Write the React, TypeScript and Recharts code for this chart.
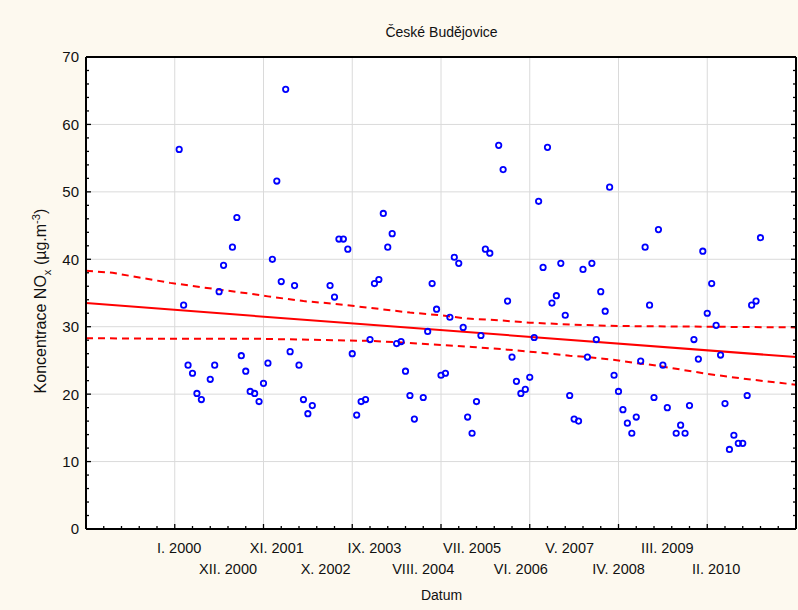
import { ComposedChart, Scatter, Line, XAxis, YAxis, CartesianGrid } from 'recharts'

// monthly NOx means, case 1 = January 2000
const cases = [
  1, 2, 3, 4, 5, 6, 8, 9, 10, 11, 13, 14, 15, 16, 17, 18, 19, 20, 21, 22, 23, 24, 25, 26, 27, 28, 29, 30, 31,
  35, 36, 37, 38, 39, 40, 41, 42, 43, 44, 45, 46, 47, 48, 49, 50, 51, 52, 53, 54, 56, 57, 58, 59, 60, 61, 62,
  63, 64, 65, 66, 67, 68, 69, 70, 71, 73, 74, 75, 76, 77, 78, 79, 80, 81, 82, 83, 84, 85, 86, 87, 88, 89, 90,
  91, 92, 93, 94, 95, 96, 97, 98, 99, 100, 101, 102, 103, 104, 105, 106, 107, 108, 109, 110, 111, 113, 114,
  115, 116, 117, 118, 119, 120, 121, 122, 123, 124, 125, 126, 127, 128, 129, 130, 131, 132,
]
const nox = [
  56.3, 33.2, 24.3, 23.1, 20.1, 19.2, 22.2, 24.3, 35.2, 39.1, 41.8, 46.2, 25.7, 23.4, 20.4, 20.1, 18.9, 21.6, 24.6, 40.0, 51.6, 36.7, 65.2, 26.3, 36.1, 24.3, 19.2, 17.1, 18.3,
  36.1, 34.4, 43.0, 43.0, 41.5, 26.0, 16.9, 18.9, 19.2, 28.1, 36.4, 37.0, 46.8, 41.8, 43.8, 27.5, 27.8, 23.4, 19.8, 16.3, 19.5, 29.3, 36.4, 32.6, 22.8, 23.1, 31.4,
  40.3, 39.4, 29.9, 16.6, 14.2, 18.9, 28.7, 41.5, 40.9, 56.9, 53.3, 33.8, 25.5, 21.9, 20.1, 20.7, 22.5, 28.4, 48.6, 38.8, 56.6, 33.5, 34.6, 39.4, 31.7, 19.8, 16.3,
  16.0, 38.5, 25.5, 39.4, 28.1, 35.2, 32.3, 50.7, 22.8, 20.4, 17.7, 15.7, 14.2, 16.6, 24.9, 41.8, 33.2, 19.5, 44.4, 24.3, 18.0, 14.2, 15.4,
  14.2, 18.3, 28.1, 25.2, 41.2, 32.0, 36.4, 30.2, 25.8, 18.6, 11.8, 13.9, 12.7, 12.7, 19.8, 33.2, 33.8, 43.2,
]

// fitted trend and its confidence limits
const trendCases = [-20, 140]
const trendValues = [33.5, 25.5]
const upperCases = [-20, -14, -8, -1, 10, 17, 21, 29, 36, 44, 53, 60, 66, 72, 80, 90, 100, 120, 140]
const upperValues = [38.3, 38.0, 37.3, 36.5, 35.5, 34.9, 34.5, 33.8, 33.4, 32.8, 32.1, 31.7, 31.2, 31.0, 30.6, 30.3, 30.1, 30.0, 29.9]
const lowerCases = [-20, 0, 20, 36, 44, 50, 60, 67, 75, 80, 89, 93, 100, 104, 108, 120, 128, 140]
const lowerValues = [28.3, 28.2, 28.2, 28.0, 27.9, 27.7, 27.3, 27.0, 26.6, 26.3, 25.7, 25.5, 25.0, 24.6, 24.3, 23.0, 22.3, 21.4]

const labelCases = [1, 12, 23, 34, 45, 56, 67, 78, 89, 100, 111, 122]
const labelTexts = [
  'I. 2000', 'XII. 2000', 'XI. 2001', 'X. 2002', 'IX. 2003', 'VIII. 2004',
  'VII. 2005', 'VI. 2006', 'V. 2007', 'IV. 2008', 'III. 2009', 'II. 2010',
]
const gridX = [0, 20, 40, 60, 80, 100, 120]
const gridY = [10, 20, 30, 40, 50, 60]

const toPoints = (xs: number[], ys: number[]) => xs.map((x, i) => ({ x, y: ys[i] }))
const points = toPoints(cases, nox)
const trend = toPoints(trendCases, trendValues)
const upper = toPoints(upperCases, upperValues)
const lower = toPoints(lowerCases, lowerValues)

const xTicks: number[] = []
for (let v = -20; v <= 140; v += 4) xTicks.push(v)
const xTicksWithLabels = Array.from(new Set([...xTicks, ...labelCases])).sort((a, b) => a - b)
const yTicks: number[] = []
for (let v = 0; v <= 70; v += 2) yTicks.push(v)

const FONT = "Arial, 'Liberation Sans', sans-serif"
const tickLen = (v: number, major: number) => (v % major === 0 ? 5 : 3)

const BottomTick = (props: any) => {
  const { x, y, payload } = props
  const v = payload.value
  const idx = labelCases.indexOf(v)
  return (
    <g>
      {v % 4 === 0 && <line x1={x} y1={y} x2={x} y2={y - tickLen(v, 20)} stroke="#000" strokeWidth={1.3} />}
      {idx >= 0 && (
        <text x={x} y={y + (idx % 2 === 0 ? 24 : 45)} textAnchor="middle" fontSize={14.5} fontFamily={FONT} fill="#111">
          {labelTexts[idx]}
        </text>
      )}
    </g>
  )
}

const TopTick = (props: any) => {
  const { x, y, payload } = props
  return <line x1={x} y1={y} x2={x} y2={y + tickLen(payload.value, 20)} stroke="#000" strokeWidth={1.3} />
}

const LeftTick = (props: any) => {
  const { x, y, payload } = props
  const v = payload.value
  return (
    <g>
      <line x1={x} y1={y} x2={x + tickLen(v, 10)} y2={y} stroke="#000" strokeWidth={1.3} />
      {v % 10 === 0 && (
        <text x={x - 7} y={y} dy="0.36em" textAnchor="end" fontSize={15} fontFamily={FONT} fill="#111">
          {v}
        </text>
      )}
    </g>
  )
}

const RightTick = (props: any) => {
  const { x, y, payload } = props
  return <line x1={x} y1={y} x2={x - tickLen(payload.value, 10)} y2={y} stroke="#000" strokeWidth={1.3} />
}

const Ring = (p: any) => <circle cx={p.cx} cy={p.cy} r={2.7} fill="none" stroke="#0000ff" strokeWidth={1.8} />

const frame = { stroke: '#000', strokeWidth: 2 }

export default function App() {
  return (
    <div style={{ position: 'absolute', left: 0, top: 0, width: 798, height: 610, background: '#fdf9ef', fontFamily: FONT, color: '#111' }}>
      <div style={{ position: 'absolute', left: 0, width: 883, top: 24, textAlign: 'center', fontSize: 14 }}>
        České Budějovice
      </div>
      <div
        style={{
          position: 'absolute', left: 36 - 160, top: 301 - 10, width: 320, height: 20, lineHeight: '20px',
          textAlign: 'center', fontSize: 16, transform: 'rotate(-90deg)', whiteSpace: 'nowrap',
        }}
      >
        Koncentrace NO<sub style={{ fontSize: '0.7em' }}>x</sub> (µg.m<sup style={{ fontSize: '0.7em' }}>-3</sup>)
      </div>
      <div style={{ position: 'absolute', left: 0, width: 883, top: 587, textAlign: 'center', fontSize: 14 }}>
        Datum
      </div>

      {/* axes are 1px thick so that they still render; margins absorb that */}
      <ComposedChart width={798} height={610} margin={{ top: 56, right: 1, bottom: 80, left: 85 }} style={{ position: 'absolute', left: 0, top: 0 }}>
        <CartesianGrid
          xAxisId="main"
          yAxisId="main"
          fill="#ffffff"
          stroke="#dadada"
          strokeWidth={1}
          verticalValues={gridX}
          horizontalValues={gridY}
        />
        <XAxis
          xAxisId="main"
          dataKey="x"
          type="number"
          domain={[-20, 140]}
          allowDataOverflow
          ticks={xTicksWithLabels}
          interval={0}
          height={1}
          tickSize={0}
          tickMargin={0}
          tickLine={false}
          axisLine={frame}
          tick={<BottomTick />}
        />
        <XAxis
          xAxisId="top"
          orientation="top"
          type="number"
          domain={[-20, 140]}
          allowDataOverflow
          ticks={xTicks}
          interval={0}
          height={1}
          tickSize={0}
          tickMargin={0}
          tickLine={false}
          axisLine={frame}
          tick={<TopTick />}
        />
        <YAxis
          yAxisId="main"
          dataKey="y"
          type="number"
          domain={[0, 70]}
          allowDataOverflow
          ticks={yTicks}
          interval={0}
          width={1}
          tickSize={0}
          tickMargin={0}
          tickLine={false}
          axisLine={frame}
          tick={<LeftTick />}
        />
        <YAxis
          yAxisId="right"
          orientation="right"
          type="number"
          domain={[0, 70]}
          allowDataOverflow
          ticks={yTicks}
          interval={0}
          width={1}
          tickSize={0}
          tickMargin={0}
          tickLine={false}
          axisLine={frame}
          tick={<RightTick />}
        />

        <Line xAxisId="main" yAxisId="main" data={upper} dataKey="y" type="linear" stroke="#ff0000" strokeWidth={2} strokeDasharray="7 5" dot={false} isAnimationActive={false} />
        <Line xAxisId="main" yAxisId="main" data={lower} dataKey="y" type="linear" stroke="#ff0000" strokeWidth={2} strokeDasharray="7 5" dot={false} isAnimationActive={false} />
        <Line xAxisId="main" yAxisId="main" data={trend} dataKey="y" type="linear" stroke="#ff0000" strokeWidth={2} dot={false} isAnimationActive={false} />
        <Scatter xAxisId="main" yAxisId="main" data={points} dataKey="y" shape={Ring} isAnimationActive={false} />
      </ComposedChart>
    </div>
  )
}
